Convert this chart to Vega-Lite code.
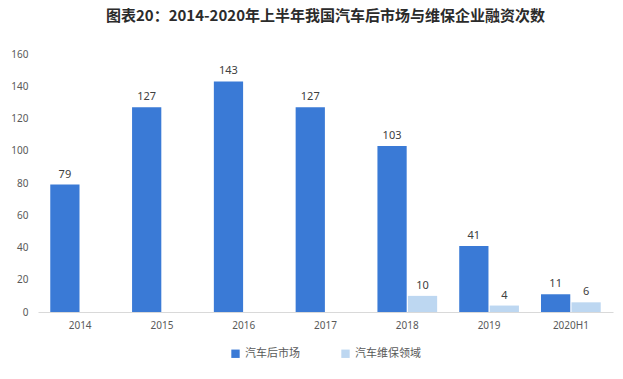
{
  "$schema": "https://vega.github.io/schema/vega-lite/v6.json",
  "width": 575,
  "height": 258,
  "autosize": "none",
  "padding": {"left": 38, "top": 54, "right": 10, "bottom": 67},
  "background": "white",
  "title": {
    "text": "图表20：2014-2020年上半年我国汽车后市场与维保企业融资次数",
    "font": "Noto Sans CJK SC",
    "fontSize": 15,
    "fontWeight": "bold",
    "color": "#2b2b2b",
    "anchor": "middle",
    "offset": 25
  },
  "data": {
    "values": [
      {"year": "2014", "series": "汽车后市场", "value": 79},
      {"year": "2015", "series": "汽车后市场", "value": 127},
      {"year": "2016", "series": "汽车后市场", "value": 143},
      {"year": "2017", "series": "汽车后市场", "value": 127},
      {"year": "2018", "series": "汽车后市场", "value": 103},
      {"year": "2018", "series": "汽车维保领域", "value": 10},
      {"year": "2019", "series": "汽车后市场", "value": 41},
      {"year": "2019", "series": "汽车维保领域", "value": 4},
      {"year": "2020H1", "series": "汽车后市场", "value": 11},
      {"year": "2020H1", "series": "汽车维保领域", "value": 6}
    ]
  },
  "encoding": {
    "x": {
      "field": "year", "type": "nominal", "title": null,
      "scale": {"paddingInner": 0.27, "paddingOuter": 0.15},
      "axis": {"labelAngle": 0, "domainColor": "#d9d9d9", "ticks": false, "labelFont": "Noto Sans", "labelFontSize": 10, "labelColor": "#595959", "labelPadding": 8}
    },
    "xOffset": {"field": "series", "type": "nominal", "scale": {"domain": ["汽车后市场", "汽车维保领域"], "paddingInner": 0.04}},
    "y": {
      "field": "value", "type": "quantitative", "title": null,
      "scale": {"domain": [0, 160]},
      "axis": {"values": [0,20,40,60,80,100,120,140,160], "grid": false, "domain": false, "ticks": false, "labelFont": "Noto Sans", "labelFontSize": 10, "labelColor": "#595959", "labelPadding": 10}
    }
  },
  "layer": [
    {
      "mark": {"type": "bar"},
      "encoding": {
        "color": {
          "field": "series", "type": "nominal",
          "scale": {"domain": ["汽车后市场", "汽车维保领域"], "range": ["#3a7ad6", "#bdd7f1"]},
          "legend": {
            "title": null, "orient": "none", "direction": "horizontal",
            "legendX": 192, "legendY": 294,
            "symbolType": "square", "symbolSize": 70,
            "labelFont": "Noto Sans CJK SC", "labelFontSize": 11, "labelColor": "#595959",
            "columnPadding": 40
          }
        }
      }
    },
    {
      "mark": {"type": "text", "dy": -10, "font": "Noto Sans", "fontSize": 11, "color": "#404040"},
      "encoding": {"text": {"field": "value", "type": "quantitative"}}
    }
  ],
  "config": {"view": {"stroke": null}}
}
